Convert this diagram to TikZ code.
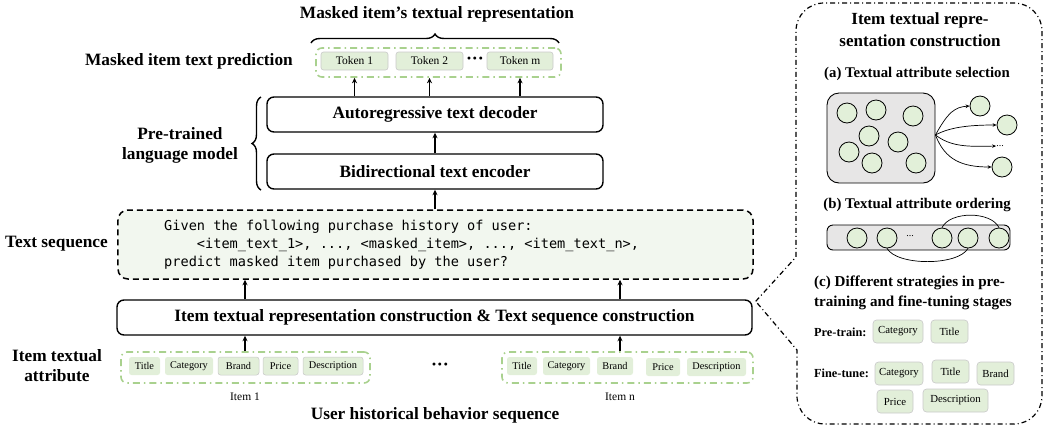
\documentclass[tikz,border=0pt]{standalone}
\usepackage{fontspec}
\setmainfont{Liberation Serif}
\newfontfamily\monofont{DejaVu Sans Mono}
\usetikzlibrary{arrows.meta,decorations.pathreplacing,calc}
\definecolor{tokfill}{HTML}{E2EFD9}
\definecolor{tokdraw}{HTML}{C9C9C9}
\definecolor{gline}{HTML}{A9D18E}
\definecolor{seqfill}{HTML}{F2F7EF}
\definecolor{grayfill}{HTML}{E7E6E6}
\definecolor{circfill}{HTML}{E2F0D9}
\newcommand{\fs}[2]{\fontsize{#1bp}{#2bp}\selectfont}
\begin{document}
\begin{tikzpicture}[x=1bp,y=-1bp,
  lbl/.style={font=\bfseries\fs{17.3}{20}, align=center, inner sep=0},
  bigbox/.style={draw, line width=1.4bp, rounded corners=7bp, inner sep=0, font=\bfseries\fs{17.3}{19}},
  tok/.style={fill=tokfill, draw=tokdraw, line width=0.6bp, rounded corners=2.5bp, inner sep=0, minimum height=18bp, font=\fs{11.5}{13}},
  attr/.style={fill=tokfill, draw=tokdraw, line width=0.5bp, rounded corners=2.5bp, inner sep=0, minimum height=18bp, font=\fs{10.3}{12}},
  stg/.style={fill=tokfill, draw=tokdraw, line width=0.6bp, rounded corners=3.5bp, inner sep=0, minimum height=23bp, font=\fs{10.8}{12}},
  gcont/.style={draw=gline, line width=1.6bp, dash pattern=on 7bp off 4bp on 1.5bp off 4bp, rounded corners=6bp, inner sep=0},
  seqbox/.style={draw, line width=1.5bp, dash pattern=on 6bp off 4bp, rounded corners=10bp, fill=seqfill, inner sep=0},
  arr/.style={line width=1.7bp, -{Stealth[length=5.5bp,width=5bp]}},
  thinarr/.style={line width=0.7bp, -{Stealth[length=4bp,width=3.5bp]}},
  circ/.style={circle, draw, line width=0.8bp, fill=circfill, minimum size=20bp, inner sep=0},
  panel/.style={line width=1.2bp, dash pattern=on 5bp off 3bp on 1bp off 3bp},
  sub/.style={font=\bfseries\fs{14.8}{17}, inner sep=0},
  dotsn/.style={inner sep=0, font=\bfseries\fs{18}{18}},
  smalldots/.style={inner sep=0, font=\fs{10}{10}},
]
\useasboundingbox (0,0) rectangle (1047,429);

% ---------- top ----------
\node[lbl] (title) at (437,14) {Masked item’s textual representation};
\node[gcont, minimum width=245bp, minimum height=29bp] (tokc) at (438.5,62.5) {};
\node[tok, minimum width=67bp] (t1) at (354.5,61) {Token 1};
\node[tok, minimum width=67bp] (t2) at (429.5,61) {Token 2};
\node[dotsn] (tdots) at (475,61) {···};
\node[tok, minimum width=66bp] (tm) at (520,61) {Token m};
\draw[line width=1.4bp, decorate, decoration={brace, amplitude=9bp}] (311,43) -- (559,43);
\node[lbl, anchor=east] (mtp) at (293,61) {Masked item text prediction};

\node[bigbox, minimum width=336bp, minimum height=35bp] (dec) at (435,114.5) {Autoregressive text decoder};
\node[bigbox, minimum width=336bp, minimum height=35bp] (enc) at (435,171.5) {Bidirectional text encoder};
\draw[line width=1.4bp, decorate, decoration={brace, amplitude=9bp}] (261,190) -- (261,97);
\node[lbl] (plm) at (180,145) {Pre-trained\\language model};

\draw[arr] (dec.north -| t1.south) -- (t1.south |- tokc.south);
\draw[arr] (dec.north -| t2.south) -- (t2.south |- tokc.south);
\draw[arr] (dec.north -| tm.south) -- (tm.south |- tokc.south);
\draw[arr] (enc.north) -- (dec.south);

% ---------- text sequence ----------
\node[seqbox, minimum width=635bp, minimum height=69bp] (seq) at (435.5,244.5) {};
\node[anchor=west, inner sep=0, align=left, font=\monofont\fs{13.6}{18}] (seqtxt) at (164,245)
  {Given the following purchase history of user:\\
   \phantom{Give}<item\_text\_1>, ..., <masked\_item>, ..., <item\_text\_n>,\\
   predict masked item purchased by the user?};
\node[lbl, anchor=east] (tsl) at (108,244) {Text sequence};
\draw[arr] (enc.south |- seq.north) -- (enc.south);

\node[bigbox, minimum width=635bp, minimum height=35bp] (cons) at (434.5,317.5)
  {Item textual representation construction \& Text sequence construction};
\coordinate (xl) at (245,0);
\coordinate (xr) at (620,0);
\draw[arr] (cons.north -| xl) -- (seq.south -| xl);
\draw[arr] (cons.north -| xr) -- (seq.south -| xr);

% ---------- items ----------
\node[gcont, minimum width=249bp, minimum height=31bp] (it1) at (245.5,367.5) {};
\node[attr, minimum width=31bp, draw=none] (a1) at (144.5,366) {Title};
\node[attr, minimum width=48bp, draw=none] (a2) at (189,366) {Category};
\node[attr, minimum width=41bp] (a3) at (238.5,366) {Brand};
\node[attr, minimum width=35bp] (a4) at (280.5,366) {Price};
\node[attr, minimum width=60bp] (a5) at (333,366) {Description};
\node[inner sep=0, font=\fs{11.5}{13}] (l1) at (245,397) {Item 1};

\node[dotsn] (idots) at (440,367) {···};

\node[gcont, minimum width=251bp, minimum height=31bp] (itn) at (627.5,367.5) {};
\node[attr, minimum width=30bp, draw=none] (b1) at (522,366) {Title};
\node[attr, minimum width=47bp, draw=none] (b2) at (566.5,366) {Category};
\node[attr, minimum width=36bp, draw=none] (b3) at (615,366) {Brand};
\node[attr, minimum width=34bp, draw=none] (b4) at (663,367) {Price};
\node[attr, minimum width=59bp, draw=none] (b5) at (716.5,367) {Description};
\node[inner sep=0, font=\fs{11.5}{13}] (ln) at (620,397) {Item n};

\draw[arr] (it1.north -| xl) -- (cons.south -| xl);
\draw[arr] (itn.north -| xr) -- (cons.south -| xr);

\node[lbl] (ita) at (57,366) {Item textual\\attribute};
\node[lbl] (uhb) at (435,415) {User historical behavior sequence};

% ---------- right panel ----------
\coordinate (notch) at ($(cons.north east)+(3,2)$);
\draw[panel] (notch) -- (796,257) -- (796,31) .. controls (796,15.5) and (808.5,3) .. (824,3)
  -- (1014,3) .. controls (1029.5,3) and (1042,15.5) .. (1042,31)
  -- (1042,396) .. controls (1042,411.5) and (1029.5,424) .. (1014,424)
  -- (825,424) .. controls (809.5,424) and (797,411.5) .. (797,396)
  -- (797,350) -- cycle;
\node[font=\bfseries\fs{17}{22}, align=center, inner sep=0] (ptitle) at (920,30) {Item textual repre-\\sentation construction};

% (a)
\node[sub] (suba) at (917,74) {(a) Textual attribute selection};
\node[draw, line width=0.9bp, fill=grayfill, rounded corners=12bp, minimum width=108bp, minimum height=90bp, inner sep=0] (abox) at (881,138) {};
\node[circ] (c1) at (847,113) {};
\node[circ] (c2) at (876,110) {};
\node[circ] (c3) at (913,116) {};
\node[circ] (c4) at (869,136) {};
\node[circ] (c5) at (898,142) {};
\node[circ] (c6) at (849,152) {};
\node[circ] (c7) at (872,163) {};
\node[circ] (c8) at (916,163) {};
\node[circ] (o1) at (980,106) {};
\node[circ] (o2) at (1007,125) {};
\node[smalldots] (odots) at (1000,146) {...};
\node[circ] (o4) at (1002,167) {};
\coordinate (as) at ($(abox.east)+(0,-3)$);
\draw[thinarr] (as) .. controls (948,112) and (955,107) .. (o1.west);
\draw[thinarr] (as) .. controls (950,127) and (970,125) .. (o2.west);
\draw[thinarr] (as) .. controls (950,146) and (965,147) .. (odots.west);
\draw[thinarr] (as) .. controls (945,160) and (962,167) .. (o4.west);

% (b)
\node[sub] (subb) at (917,205) {(b) Textual attribute ordering};
\node[draw, line width=0.9bp, fill=grayfill, rounded corners=6bp, minimum width=183bp, minimum height=25bp, inner sep=0] (bbox) at (918.5,237.5) {};
\node[circ] (r1) at (857,238) {};
\node[circ] (r2) at (887,238) {};
\node[smalldots] (rdots) at (910,236) {...};
\node[circ] (r4) at (942,238) {};
\node[circ] (r5) at (968,238) {};
\node[circ] (r6) at (999,238) {};
\draw[line width=0.7bp] (r4.north) .. controls (950,211) and (991,211) .. (r6.north);
\draw[line width=0.7bp] (r2.south) .. controls (897,266) and (958,266) .. (r5.south);

% (c)
\node[font=\bfseries\fs{15.1}{20}, align=left, anchor=west, inner sep=0] (subc) at (814,293) {(c) Different strategies in pre-\\training and fine-tuning stages};
\node[font=\bfseries\fs{12.3}{13}, anchor=west, inner sep=0] (ptl) at (814,332) {Pre-train:};
\node[stg, minimum width=50bp] (p1) at (898,331.5) {Category};
\node[stg, minimum width=37bp] (p2) at (949.5,331.5) {Title};
\node[font=\bfseries\fs{12.3}{13}, anchor=west, inner sep=0] (ftl) at (814,373) {Fine-tune:};
\node[stg, minimum width=48bp] (f1) at (899,373.5) {Category};
\node[stg, minimum width=37bp] (f2) at (950.5,371.5) {Title};
\node[stg, minimum width=37bp] (f3) at (995.5,373.5) {Brand};
\node[stg, minimum width=36bp] (f4) at (895,401.5) {Price};
\node[stg, minimum width=65bp] (f5) at (955.5,400.5) {Description};
\end{tikzpicture}
\end{document}
